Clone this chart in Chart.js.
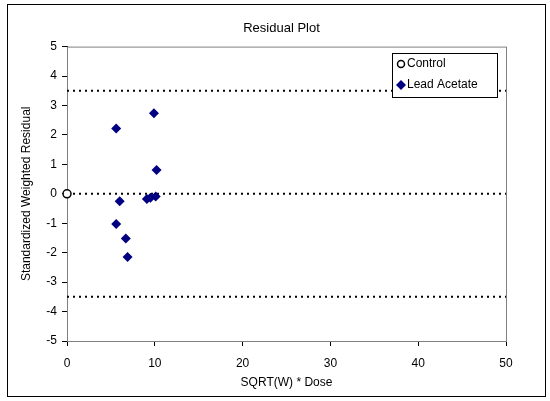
<!DOCTYPE html>
<html>
<head>
<meta charset="utf-8">
<script src="https://cdn.jsdelivr.net/npm/chart.js@4/dist/chart.umd.min.js"></script>
<style>
  html, body { margin: 0; padding: 0; background: #fff; }
  #frame { position: absolute; left: 7px; top: 4px; width: 537px; height: 391px; border: 1px solid #000; }
  #frame canvas { display: block; }
</style>
</head>
<body>
<div id="frame"><canvas id="residChart" width="537" height="391"></canvas></div>
<script>
// data
const controlX = [0];
const controlY = [0];
const leadX = [5.6, 9.9, 10.2, 6.0, 9.1, 9.5, 10.1, 5.6, 6.7, 6.9];
const leadY = [2.22, 2.74, 0.81, -0.25, -0.18, -0.13, -0.09, -1.03, -1.52, -2.15];
const refLevels = [3.5, 0, -3.5];
const xRange = [0, 50];
const yRange = [-5, 5];

const toPoints = (xs, ys) => xs.map((x, i) => ({ x: x, y: ys[i] }));

const refSets = refLevels.map(v => ({
    label: 'ref' + v,
    data: xRange.map(x => ({ x: x, y: v })),
    showLine: true,
    borderColor: '#000',
    borderWidth: 2,
    borderDash: [2, 4],
    pointRadius: 0,
    order: 3
}));

// plot-area frame + inside legend
const extras = {
    id: 'extras',
    beforeDatasetsDraw(chart) {
        const { ctx, chartArea: a } = chart;
        ctx.save();
        ctx.strokeStyle = '#808080';
        ctx.lineWidth = 1;
        ctx.strokeRect(a.left + 0.5, a.top + 0.5, a.right - a.left, a.bottom - a.top);
        ctx.restore();
    },
    afterDraw(chart) {
        const { ctx } = chart;
        const bx = 384, by = 48, bw = 105, bh = 44;
        ctx.save();
        ctx.fillStyle = '#fff';
        ctx.fillRect(bx, by, bw, bh);
        ctx.strokeStyle = '#000';
        ctx.lineWidth = 1;
        ctx.strokeRect(bx + 0.5, by + 0.5, bw, bh);
        ctx.font = '12px "Liberation Sans", Arial, sans-serif';
        ctx.fillStyle = '#000';
        ctx.textBaseline = 'middle';
        ctx.fillText('Control', bx + 15, by + 11);
        ctx.fillText('Lead Acetate', bx + 15, by + 32);
        ctx.beginPath();
        ctx.arc(bx + 9, by + 11, 3.5, 0, Math.PI * 2);
        ctx.lineWidth = 1.5;
        ctx.stroke();
        ctx.fillStyle = '#000080';
        ctx.beginPath();
        ctx.moveTo(bx + 9, by + 27);
        ctx.lineTo(bx + 14, by + 32);
        ctx.lineTo(bx + 9, by + 37);
        ctx.lineTo(bx + 4, by + 32);
        ctx.closePath();
        ctx.fill();
        ctx.restore();
    }
};

const font = { family: '"Liberation Sans", Arial, sans-serif', size: 12 };

new Chart(document.getElementById('residChart').getContext('2d'), {
    type: 'scatter',
    data: {
        datasets: refSets.concat([
            {
                label: 'Control',
                data: toPoints(controlX, controlY),
                pointStyle: 'circle',
                pointRadius: 4,
                pointBorderWidth: 1.5,
                pointBorderColor: '#000',
                pointBackgroundColor: '#fff',
                clip: false,
                order: 1
            },
            {
                label: 'Lead Acetate',
                data: toPoints(leadX, leadY),
                pointStyle: 'rectRot',
                pointRadius: 5,
                pointBorderWidth: 0,
                pointBackgroundColor: '#000080',
                pointBorderColor: '#000080',
                clip: false,
                order: 2
            }
        ])
    },
    options: {
        responsive: false,
        animation: false,
        layout: { padding: { left: 10, right: 0, top: 0, bottom: 0 } },
        plugins: {
            legend: { display: false },
            tooltip: { enabled: false },
            title: {
                display: true,
                text: 'Residual Plot',
                color: '#000',
                font: { family: font.family, size: 13, weight: 'normal' },
                padding: { top: 16, bottom: 10 }
            }
        },
        scales: {
            x: {
                type: 'linear',
                min: xRange[0], max: xRange[1],
                afterFit: s => { s.height = 55; },
                ticks: { stepSize: 10, color: '#000', font: font, padding: 10, maxRotation: 0 },
                grid: { display: true, drawOnChartArea: false, tickLength: 5, color: '#000' },
                border: { color: '#000', width: 1 },
                title: { display: true, text: 'SQRT(W) * Dose', color: '#000', font: font, padding: { top: 2, bottom: 6 } }
            },
            y: {
                type: 'linear',
                min: yRange[0], max: yRange[1],
                afterFit: s => { s.width = 49; },
                ticks: { stepSize: 1, color: '#000', font: font, padding: 5 },
                grid: { display: true, drawOnChartArea: false, tickLength: 5, color: '#000' },
                border: { color: '#000', width: 1 },
                title: { display: true, text: 'Standardized Weighted Residual', color: '#000', font: font, padding: { top: 1, bottom: 4 } }
            },
            // empty right-hand space so the title centres like the reference
            yPad: {
                type: 'linear',
                position: 'right',
                min: yRange[0], max: yRange[1],
                afterFit: s => { s.width = 39; },
                ticks: { display: false },
                grid: { display: false },
                border: { display: false }
            }
        }
    },
    plugins: [extras]
});
</script>
</body>
</html>
